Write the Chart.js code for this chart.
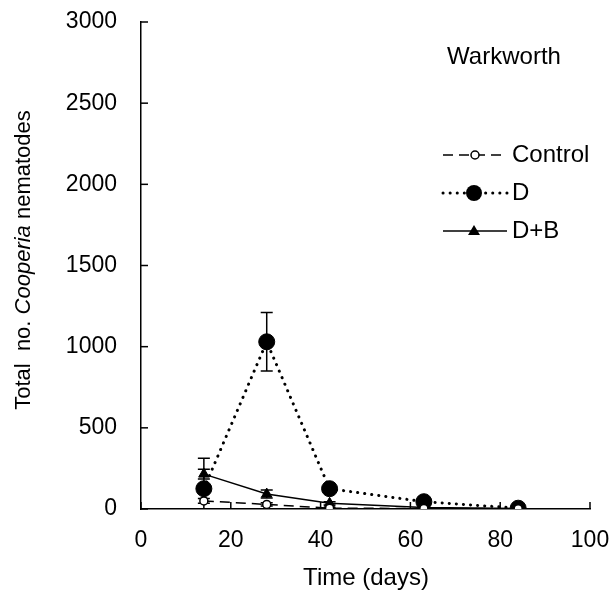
<!DOCTYPE html>
<html>
<head>
<meta charset="utf-8">
<script src="https://cdn.jsdelivr.net/npm/chart.js@4"></script>
<style>
  html, body { margin: 0; padding: 0; background: #fff; }
  #wrap { width: 616px; height: 597px; }
</style>
</head>
<body>
<div id="wrap"><canvas id="nemChart" width="616" height="597"></canvas></div>
<script>
// Warkworth — total Cooperia nematodes over time
const days = [14, 28, 42, 63, 84];
const controlVals = [50, 28, 5, 3, 2];
const dVals = [125, 1030, 125, 45, 5];
const dbVals = [215, 92, 35, 10, 3];
// error bars (± value)
const controlErr = [15, 10, 4, 2, 1];
const dErr = [188, 180, 15, 10, 3];
const dbErr = [30, 25, 10, 5, 2];
const xTicks = [0, 20, 40, 60, 80, 100];
const yTicks = [0, 500, 1000, 1500, 2000, 2500, 3000];

const FONT = '"Liberation Sans", Arial, sans-serif';
const pts = vals => vals.map((v, i) => ({ x: days[i], y: v }));

const errBars = {
  id: 'errBars',
  beforeDatasetsDraw(chart) {
    const { ctx, scales: { x, y } } = chart;
    const sets = [[dVals, dErr], [dbVals, dbErr], [controlVals, controlErr]];
    ctx.save();
    ctx.beginPath();
    ctx.rect(chart.chartArea.left, chart.chartArea.top, chart.chartArea.width, chart.chartArea.height);
    ctx.clip();
    ctx.strokeStyle = '#000';
    ctx.lineWidth = 1.5;
    sets.forEach(([vals, errs]) => {
      vals.forEach((v, i) => {
        const px = x.getPixelForValue(days[i]);
        const hi = y.getPixelForValue(v + errs[i]);
        const lo = y.getPixelForValue(v - errs[i]);
        ctx.beginPath();
        ctx.moveTo(px, hi); ctx.lineTo(px, lo);
        ctx.moveTo(px - 6, hi); ctx.lineTo(px + 6, hi);
        ctx.moveTo(px - 6, lo); ctx.lineTo(px + 6, lo);
        ctx.stroke();
      });
    });
    ctx.restore();
  }
};

const decorations = {
  id: 'decorations',
  afterDraw(chart) {
    const { ctx, chartArea: ca, scales: { x, y } } = chart;
    ctx.save();
    // inward tick marks
    ctx.strokeStyle = '#000';
    ctx.lineWidth = 1.5;
    xTicks.forEach(t => {
      const px = x.getPixelForValue(t);
      ctx.beginPath(); ctx.moveTo(px, ca.bottom); ctx.lineTo(px, ca.bottom - 7); ctx.stroke();
    });
    yTicks.forEach(t => {
      const py = y.getPixelForValue(t);
      ctx.beginPath(); ctx.moveTo(ca.left, py); ctx.lineTo(ca.left + 7, py); ctx.stroke();
    });

    ctx.fillStyle = '#000';
    ctx.textBaseline = 'middle';

    // x title
    ctx.font = '24px ' + FONT;
    ctx.textAlign = 'center';
    ctx.fillText('Time (days)', 366, 578);

    // panel label
    ctx.fillText('Warkworth', 504, 57);

    // y title with italic genus name
    const parts = [['Total  no. ', 'normal'], ['Cooperia', 'italic'], [' nematodes', 'normal']];
    let total = 0;
    parts.forEach(p => { ctx.font = p[1] + ' 22px ' + FONT; total += ctx.measureText(p[0]).width; });
    ctx.translate(24, 260);
    ctx.rotate(-Math.PI / 2);
    ctx.textAlign = 'left';
    let cx = -total / 2;
    parts.forEach(p => {
      ctx.font = p[1] + ' 22px ' + FONT;
      ctx.fillText(p[0], cx, 0);
      cx += ctx.measureText(p[0]).width;
    });
    ctx.setTransform(1, 0, 0, 1, 0, 0);

    // legend
    const rows = [
      { label: 'Control', dash: [10, 6], width: 1.5, cap: 'butt', marker: 'ctrl', y: 155 },
      { label: 'D', dash: [0.1, 7], width: 3, cap: 'round', marker: 'dot', y: 193 },
      { label: 'D+B', dash: [], width: 1.5, cap: 'butt', marker: 'tri', y: 231 }
    ];
    rows.forEach(r => {
      ctx.setLineDash(r.dash);
      ctx.lineCap = r.cap;
      ctx.lineWidth = r.width;
      ctx.beginPath(); ctx.moveTo(443, r.y); ctx.lineTo(507, r.y); ctx.stroke();
      ctx.setLineDash([]);
      ctx.lineCap = 'butt';
      ctx.lineWidth = 1.5;
      if (r.marker === 'ctrl') {
        ctx.fillStyle = '#fff';
        ctx.beginPath(); ctx.arc(475, r.y, 4, 0, Math.PI * 2); ctx.fill(); ctx.stroke();
      } else if (r.marker === 'dot') {
        ctx.fillStyle = '#000';
        ctx.beginPath(); ctx.arc(474, r.y, 8, 0, Math.PI * 2); ctx.fill();
      } else {
        ctx.fillStyle = '#000';
        ctx.beginPath(); ctx.moveTo(474, r.y - 6); ctx.lineTo(480, r.y + 4); ctx.lineTo(468, r.y + 4); ctx.closePath(); ctx.fill();
      }
      ctx.fillStyle = '#000';
      ctx.font = '24px ' + FONT;
      ctx.textAlign = 'left';
      ctx.fillText(r.label, 512, r.y);
    });
    ctx.restore();
  }
};

new Chart(document.getElementById('nemChart'), {
  type: 'line',
  data: {
    datasets: [
      {
        label: 'Control', data: pts(controlVals),
        borderColor: '#000', borderWidth: 1.5, borderDash: [10, 6],
        pointStyle: 'circle', pointRadius: 4, pointBackgroundColor: '#fff',
        pointBorderColor: '#000', pointBorderWidth: 1.5, tension: 0
      },
      {
        label: 'D', data: pts(dVals),
        borderColor: '#000', borderWidth: 3, borderDash: [0.1, 7], borderCapStyle: 'round',
        pointStyle: 'circle', pointRadius: 8, pointBackgroundColor: '#000',
        pointBorderColor: '#000', pointBorderWidth: 1, tension: 0
      },
      {
        label: 'D+B', data: pts(dbVals),
        borderColor: '#000', borderWidth: 1.5,
        pointStyle: 'triangle', pointRadius: 6, pointBackgroundColor: '#000',
        pointBorderColor: '#000', pointBorderWidth: 1, tension: 0
      }
    ]
  },
  options: {
    responsive: false,
    animation: false,
    layout: { padding: { top: 22, right: 26, left: 0, bottom: 0 } },
    plugins: { legend: { display: false }, tooltip: { enabled: false } },
    scales: {
      x: {
        type: 'linear', min: 0, max: 100,
        afterBuildTicks: s => { s.ticks = xTicks.map(v => ({ value: v })); },
        afterFit: s => { s.height = 88; },
        grid: { drawOnChartArea: false, drawTicks: true, tickLength: 18, tickColor: 'rgba(0,0,0,0)' },
        border: { color: '#000', width: 1.5 },
        ticks: { color: '#000', font: { family: FONT, size: 23 }, padding: 0, maxRotation: 0, callback: v => String(v) }
      },
      y: {
        min: 0, max: 3000,
        afterBuildTicks: s => { s.ticks = yTicks.map(v => ({ value: v })); },
        afterFit: s => { s.width = 141; },
        grid: { drawOnChartArea: false, drawTicks: true, tickLength: 24, tickColor: 'rgba(0,0,0,0)' },
        border: { color: '#000', width: 1.5 },
        ticks: { color: '#000', font: { family: FONT, size: 23 }, padding: 0, callback: v => String(v) }
      }
    }
  },
  plugins: [errBars, decorations]
});
</script>
</body>
</html>
